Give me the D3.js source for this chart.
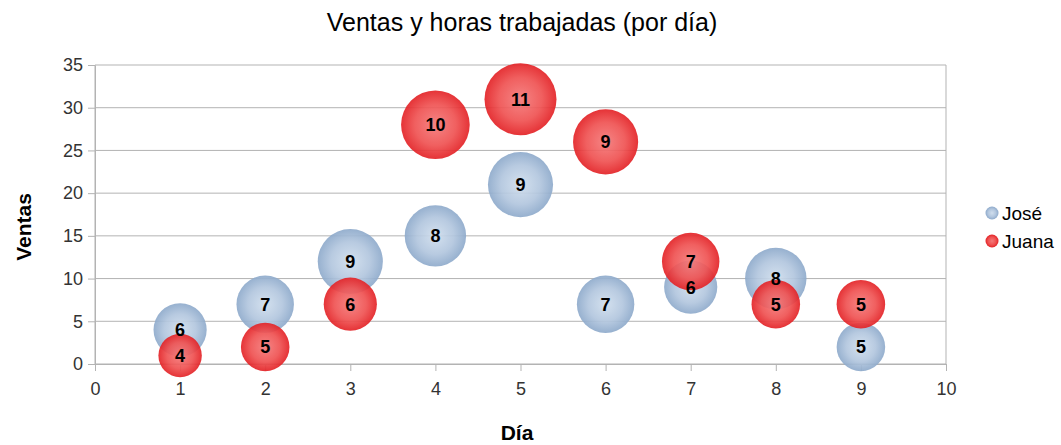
<!DOCTYPE html>
<html>
<head>
<meta charset="utf-8">
<script src="https://cdn.jsdelivr.net/npm/d3@7"></script>
<style>
  html, body { margin: 0; padding: 0; background: #fff; }
  svg { display: block; font-family: "Liberation Sans", Arial, sans-serif; }
</style>
</head>
<body>
<svg id="chart" width="1061" height="445"></svg>
<script>
// Days on the x axis
const days = [1, 2, 3, 4, 5, 6, 7, 8, 9];
// Sales per day for each employee
const joseVentas  = [4, 7, 12, 15, 21, 7, 9, 10, 2];
const juanaVentas = [1, 2, 7, 28, 31, 26, 12, 7, 7];
// Hours worked per day (bubble size)
const joseHoras  = [6, 7, 9, 8, 9, 7, 6, 8, 5];
const juanaHoras = [4, 5, 6, 10, 11, 9, 7, 5, 5];
// Axis ticks
const xTicks = [0, 1, 2, 3, 4, 5, 6, 7, 8, 9, 10];
const yTicks = [0, 5, 10, 15, 20, 25, 30, 35];
const seriesNames = ["José", "Juana"];

const svg = d3.select("#chart");
const plotLeft = 95, plotRight = 946, plotTop = 65, plotBottom = 364;

const x = d3.scaleLinear().domain([0, 10]).range([plotLeft, plotRight]);
const y = d3.scaleLinear().domain([0, 35]).range([plotBottom, plotTop]);
const maxHoras = d3.max(joseHoras.concat(juanaHoras));
const r = d3.scaleSqrt().domain([0, maxHoras]).range([0, 36]);

// Gradients for the bubbles
const defs = svg.append("defs");
const grads = [
  { id: "gJose",  c0: "#d0deed", c1: "#b2c6de", c2: "#8eaacb" },
  { id: "gJuana", c0: "#f47a7a", c1: "#ef5252", c2: "#e32226" }
];
grads.forEach(g => {
  const rg = defs.append("radialGradient").attr("id", g.id)
    .attr("cx", "50%").attr("cy", "50%").attr("r", "50%");
  rg.append("stop").attr("offset", "0%").attr("stop-color", g.c0);
  rg.append("stop").attr("offset", "60%").attr("stop-color", g.c1);
  rg.append("stop").attr("offset", "100%").attr("stop-color", g.c2);
});

// Horizontal grid lines
svg.append("g").selectAll("line").data(yTicks).join("line")
  .attr("x1", plotLeft).attr("x2", plotRight)
  .attr("y1", d => y(d)).attr("y2", d => y(d))
  .attr("stroke", "#b3b3b3").attr("stroke-width", 1);

// Plot borders (left and right)
svg.append("line").attr("x1", plotLeft).attr("x2", plotLeft).attr("y1", plotTop).attr("y2", plotBottom)
  .attr("stroke", "#b3b3b3");
svg.append("line").attr("x1", plotRight).attr("x2", plotRight).attr("y1", plotTop).attr("y2", plotBottom)
  .attr("stroke", "#b3b3b3");

// Axes
const xAxis = svg.append("g").attr("transform", `translate(0,${plotBottom})`)
  .call(d3.axisBottom(x).tickValues(xTicks).tickSize(7).tickSizeOuter(0).tickPadding(11));
const yAxis = svg.append("g").attr("transform", `translate(${plotLeft},0)`)
  .call(d3.axisLeft(y).tickValues(yTicks).tickSize(7).tickSizeOuter(0).tickPadding(5));
[xAxis, yAxis].forEach(a => {
  a.select(".domain").attr("stroke", "#b3b3b3");
  a.selectAll(".tick line").attr("stroke", "#b3b3b3");
  a.selectAll(".tick text").attr("fill", "#333").style("font-size", "18px")
    .style("font-family", "Liberation Sans, Arial, sans-serif");
});

// Bubbles
const series = [
  { name: seriesNames[0], ventas: joseVentas, horas: joseHoras, fill: "url(#gJose)" },
  { name: seriesNames[1], ventas: juanaVentas, horas: juanaHoras, fill: "url(#gJuana)" }
];
series.forEach(s => {
  svg.append("g").selectAll("circle").data(days).join("circle")
    .attr("cx", (d) => x(d))
    .attr("cy", (d, i) => y(s.ventas[i]))
    .attr("r", (d, i) => r(s.horas[i]))
    .attr("fill", s.fill)
    .attr("fill-opacity", 0.92);
});

// Value labels (hours)
series.forEach(s => {
  svg.append("g").selectAll("text").data(days).join("text")
    .attr("x", d => x(d))
    .attr("y", (d, i) => y(s.ventas[i]))
    .attr("dy", "0.36em")
    .attr("text-anchor", "middle")
    .attr("font-weight", "bold")
    .attr("font-size", "18px")
    .attr("fill", "#000")
    .text((d, i) => s.horas[i]);
});

// Title
svg.append("text").attr("x", 522).attr("y", 31).attr("text-anchor", "middle")
  .attr("font-size", "25px").attr("fill", "#000")
  .text("Ventas y horas trabajadas (por día)");

// Axis titles
svg.append("text").attr("x", 517).attr("y", 440).attr("text-anchor", "middle")
  .attr("font-size", "21px").attr("font-weight", "bold").attr("fill", "#000")
  .text("Día");
svg.append("text").attr("transform", "translate(31,227) rotate(-90)")
  .attr("text-anchor", "middle")
  .attr("font-size", "21px").attr("font-weight", "bold").attr("fill", "#000")
  .text("Ventas");

// Legend
const legend = svg.append("g");
series.forEach((s, i) => {
  const ly = 213 + i * 28;
  legend.append("circle").attr("cx", 992).attr("cy", ly).attr("r", 6.5).attr("fill", s.fill);
  legend.append("text").attr("x", 1002).attr("y", ly + 7)
    .attr("font-size", "19px").attr("fill", "#000").text(s.name);
});
</script>
</body>
</html>
